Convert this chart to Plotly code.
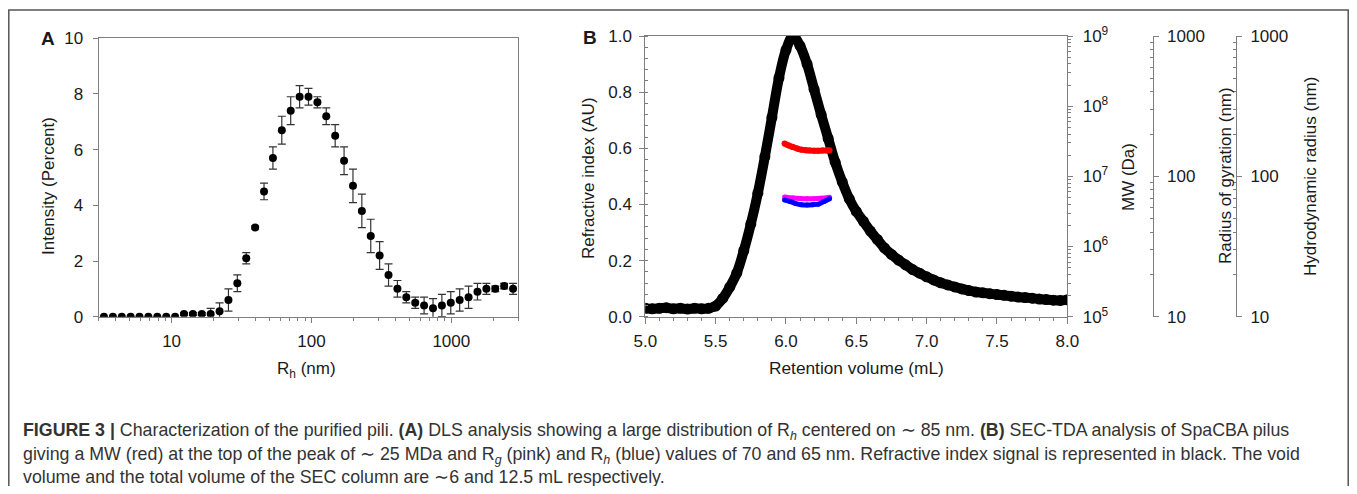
import plotly.graph_objects as go

# ---------------- Panel A data (DLS) ----------------
rh_nm = [3.28, 3.80, 4.40, 5.09, 5.89, 6.82, 7.90, 9.15, 10.59, 12.26, 14.19, 16.43,
         19.02, 22.02, 25.49, 29.51, 34.17, 39.56, 45.80, 53.02, 61.38, 71.06, 82.27,
         95.24, 110.3, 127.6, 147.8, 171.1, 198.1, 229.3, 265.5, 307.3, 355.8, 411.9,
         476.9, 552.1, 639.1, 740.0, 856.6, 991.7, 1148, 1329, 1539, 1782, 2063, 2388, 2765]
intensity = [0, 0, 0, 0, 0, 0, 0, 0, 0, 0.1, 0.1, 0.1,
             0.1, 0.2, 0.6, 1.2, 2.1, 3.2, 4.5, 5.7, 6.7, 7.4, 7.9,
             7.9, 7.7, 7.2, 6.5, 5.6, 4.7, 3.8, 2.9, 2.2, 1.5, 1.0,
             0.7, 0.5, 0.4, 0.3, 0.4, 0.5, 0.6, 0.7, 0.9, 1.0, 1.0, 1.1, 1.0]
intensity_err = [0, 0, 0, 0, 0, 0, 0, 0, 0, 0.05, 0.05, 0.05,
                 0.2, 0.3, 0.4, 0.3, 0.2, 0.05, 0.3, 0.4, 0.5, 0.5, 0.4,
                 0.3, 0.2, 0.3, 0.4, 0.5, 0.6, 0.6, 0.6, 0.5, 0.4, 0.3,
                 0.2, 0.2, 0.3, 0.35, 0.4, 0.4, 0.4, 0.4, 0.3, 0.2, 0.1, 0.1, 0.2]

# ---------------- Panel B data (SEC-TDA) ----------------
ret_vol = [5.00, 5.05, 5.10, 5.15, 5.20, 5.25, 5.30, 5.35, 5.40, 5.45, 5.50, 5.55,
           5.60, 5.65, 5.70, 5.75, 5.80, 5.85, 5.90, 5.95, 6.00, 6.05, 6.10, 6.15,
           6.20, 6.25, 6.30, 6.35, 6.40, 6.45, 6.50, 6.55, 6.60, 6.65, 6.70, 6.75,
           6.80, 6.85, 6.90, 6.95, 7.00, 7.05, 7.10, 7.15, 7.20, 7.25, 7.30, 7.35,
           7.40, 7.45, 7.50, 7.55, 7.60, 7.65, 7.70, 7.75, 7.80, 7.85, 7.90, 7.95, 8.00]
refractive_index = [0.030, 0.028, 0.030, 0.032, 0.028, 0.030, 0.027, 0.030, 0.028, 0.030, 0.038, 0.065,
                    0.105, 0.155, 0.235, 0.330, 0.440, 0.570, 0.710, 0.850, 0.950, 1.000, 0.965, 0.900,
                    0.810, 0.720, 0.635, 0.550, 0.480, 0.420, 0.375, 0.340, 0.305, 0.275, 0.245, 0.222,
                    0.202, 0.185, 0.168, 0.155, 0.142, 0.131, 0.121, 0.113, 0.106, 0.099, 0.093, 0.088,
                    0.085, 0.082, 0.079, 0.076, 0.073, 0.070, 0.068, 0.066, 0.063, 0.061, 0.059, 0.058, 0.060]

mw_vol = [5.99, 6.02, 6.05, 6.08, 6.11, 6.14, 6.17, 6.20, 6.23, 6.26, 6.29, 6.31]
mw_da = [2.94e7, 2.75e7, 2.61e7, 2.49e7, 2.40e7, 2.355e7, 2.33e7, 2.31e7, 2.31e7, 2.33e7, 2.33e7, 2.355e7]

rg_vol = [5.99, 6.05, 6.10, 6.15, 6.20, 6.25, 6.31]
rg_nm = [71.4, 70.1, 69.5, 69.2, 69.2, 69.8, 71.1]

rhb_vol = [5.99, 6.03, 6.07, 6.11, 6.15, 6.19, 6.23, 6.27, 6.31]
rhb_nm = [67.9, 66.1, 64.0, 62.8, 62.5, 62.8, 63.4, 66.1, 69.2]

# ---------------- layout helpers ----------------
# The page body keeps the browser's default 8 px margin, so the figure is made
# 16 px smaller than the window and positions are given in window pixels.
OFF = 8
W, H = 1357 - 2 * OFF, 494 - 2 * OFF
def fx(px):
    return (px - OFF) / W
def fy(py):
    return 1 - (py - OFF) / H

FONT = "Arial, 'Liberation Sans', sans-serif"
AX = "#7f7f7f"
TXT = "#1a1a1a"
TICKFONT = dict(family=FONT, size=17, color=TXT)

fig = go.Figure()

fig.add_trace(go.Scatter(
    x=rh_nm, y=intensity, mode="markers", xaxis="x", yaxis="y",
    marker=dict(color="black", size=8),
    error_y=dict(type="data", array=intensity_err, color="#333333", thickness=1.2, width=4),
    showlegend=False))

fig.add_trace(go.Scatter(
    x=ret_vol, y=refractive_index, mode="lines+markers", xaxis="x2", yaxis="y2",
    line=dict(color="black", width=10, shape="spline"),
    marker=dict(color="black", size=11), showlegend=False))

fig.add_trace(go.Scatter(
    x=rhb_vol, y=rhb_nm, mode="lines+markers", xaxis="x2", yaxis="y5",
    line=dict(color="#0000ff", width=5, shape="spline"),
    marker=dict(color="#0000ff", size=5), showlegend=False))
fig.add_trace(go.Scatter(
    x=rg_vol, y=rg_nm, mode="lines+markers", xaxis="x2", yaxis="y4",
    line=dict(color="#ff00ff", width=5, shape="spline"),
    marker=dict(color="#ff00ff", size=5), showlegend=False))
fig.add_trace(go.Scatter(
    x=mw_vol, y=mw_da, mode="lines+markers", xaxis="x2", yaxis="y3",
    line=dict(color="#ff0000", width=6, shape="spline"),
    marker=dict(color="#ff0000", size=6), showlegend=False))

log_minor_A = [m * 10 ** k for k in range(0, 4) for m in range(2, 10) if 3 <= m * 10 ** k <= 3000]

common_axis = dict(showgrid=False, zeroline=False, showline=True, linecolor=AX, linewidth=1,
                   tickcolor=AX, tickfont=TICKFONT, automargin=False)

fig.update_layout(
    template="none",
    width=W, height=H, margin=dict(l=0, r=0, t=0, b=0, pad=0),
    paper_bgcolor="white", plot_bgcolor="white", showlegend=False,
    font=dict(family=FONT, color=TXT),
    xaxis=dict(common_axis, type="log", domain=[fx(98.5), fx(518)], anchor="y",
               range=[0.4771, 3.4771], tickvals=[10, 100, 1000], ticktext=["10", "100", "1000"],
               ticks="outside", ticklen=5, mirror=True, ticklabelstandoff=4,
               minor=dict(tickvals=log_minor_A, ticks="outside", ticklen=3, tickcolor=AX)),
    yaxis=dict(common_axis, domain=[fy(316.7), fy(38.3)], anchor="x", range=[0, 10],
               tickvals=[0, 2, 4, 6, 8, 10], ticks="outside", ticklen=5, mirror=True,
               ticklabelstandoff=6),
    xaxis2=dict(common_axis, domain=[fx(645.3), fx(1067.3)], anchor="y2", range=[5, 8],
                dtick=0.5, tick0=5, tickformat=".1f", ticks="outside", ticklen=6, mirror=True,
                ticklabelstandoff=3,
                minor=dict(dtick=0.1, ticks="outside", ticklen=3, tickcolor=AX)),
    yaxis2=dict(common_axis, domain=[fy(316.7), fy(36)], anchor="x2", range=[0, 1],
                dtick=0.2, tickformat=".1f", ticks="outside", ticklen=5, ticklabelstandoff=4,
                minor=dict(dtick=0.04, ticks="inside", ticklen=3, tickcolor=AX)),
    yaxis3=dict(common_axis, type="log", overlaying="y2", side="right", anchor="x2",
                range=[5, 9], tickvals=[1e5, 1e6, 1e7, 1e8, 1e9],
                ticktext=["10<sup>5</sup>", "10<sup>6</sup>", "10<sup>7</sup>", "10<sup>8</sup>", "10<sup>9</sup>"],
                ticks="outside", ticklen=5, ticklabelstandoff=6,
                minor=dict(ticks="outside", ticklen=3, tickcolor=AX,
                           tickvals=[m * 10 ** k for k in range(5, 9) for m in range(2, 10)])),
    yaxis4=dict(common_axis, type="log", overlaying="y2", side="right", anchor="free",
                position=fx(1152.7), range=[1, 3], tickvals=[10, 100, 1000],
                ticktext=["10", "100", "1000"], ticks="outside", ticklen=5, ticklabelstandoff=5,
                minor=dict(ticks="inside", ticklen=3, tickcolor=AX,
                           tickvals=[m * 10 ** k for k in range(1, 3) for m in range(2, 10)])),
    yaxis5=dict(common_axis, type="log", overlaying="y2", side="right", anchor="free",
                position=fx(1236), range=[1, 3], tickvals=[10, 100, 1000],
                ticktext=["10", "100", "1000"], ticks="outside", ticklen=5, ticklabelstandoff=5,
                minor=dict(ticks="inside", ticklen=3, tickcolor=AX,
                           tickvals=[m * 10 ** k for k in range(1, 3) for m in range(2, 10)])),
)

ann = []
def add_text(px, py, text, size=17, angle=0, xanchor="center", color=TXT):
    ann.append(dict(x=fx(px), y=fy(py), xref="paper", yref="paper", text=text, showarrow=False,
                    textangle=angle, xanchor=xanchor, yanchor="middle",
                    font=dict(family=FONT, size=size, color=color)))

add_text(48, 38, "<b>A</b>", size=19)
add_text(590, 37, "<b>B</b>", size=19)
add_text(48, 186, "Intensity (Percent)", angle=-90)
add_text(306, 370, "R<sub>h</sub> (nm)")
add_text(588, 178, "Refractive index (AU)", angle=-90)
add_text(856, 368, "Retention volume (mL)", size=17.3)
add_text(1128, 177, "MW (Da)", angle=-90)
add_text(1225, 176, "Radius of gyration (nm)", angle=-90)
add_text(1310, 177, "Hydrodynamic radius (nm)", angle=-90)

CAP = "#333333"
add_text(21, 431, "<b>FIGURE 3 |</b> Characterization of the purified pili. <b>(A)</b> DLS analysis showing a large "
         "distribution of R<sub><i>h</i></sub> centered on ∼ 85 nm. <b>(B)</b> SEC-TDA analysis of SpaCBA pilus",
         size=17.8, xanchor="left", color=CAP)
add_text(21, 455, "giving a MW (red) at the top of the peak of ∼ 25 MDa and R<sub><i>g</i></sub> (pink) and "
         "R<sub><i>h</i></sub> (blue) values of 70 and 65 nm. Refractive index signal is represented in black. The void",
         size=17.8, xanchor="left", color=CAP)
add_text(21, 477, "volume and the total volume of the SEC column are ∼6 and 12.5 mL respectively.",
         size=17.8, xanchor="left", color=CAP)

fig.update_layout(annotations=ann)

fig.add_shape(type="rect", xref="paper", yref="paper", x0=fx(8.8), x1=fx(1348.2), y0=-0.2, y1=fy(10),
              line=dict(color="#555555", width=1.5), fillcolor="rgba(0,0,0,0)", layer="below")

fig.write_html("out.html")
